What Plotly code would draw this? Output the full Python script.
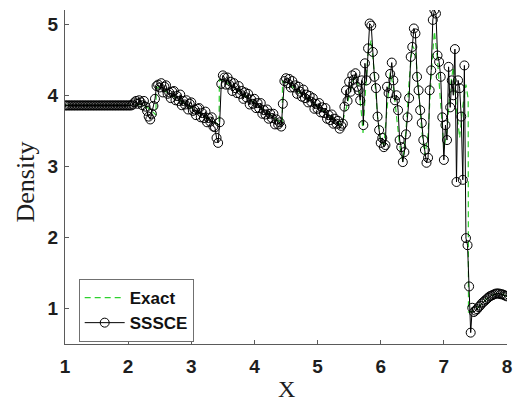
import plotly.graph_objects as go

# ---- SSSCE solution (cell values) ----
x_sssce = [
    # 1.000 - 2.050
    1.000, 1.025, 1.050, 1.075, 1.100, 1.125, 1.150, 1.175, 1.200, 1.225,
    1.250, 1.275, 1.300, 1.325, 1.350, 1.375, 1.400, 1.425, 1.450, 1.475,
    1.500, 1.525, 1.550, 1.575, 1.600, 1.625, 1.650, 1.675, 1.700, 1.725,
    1.750, 1.775, 1.800, 1.825, 1.850, 1.875, 1.900, 1.925, 1.950, 1.975,
    2.000, 2.025, 2.050,
    # 2.075 - 2.475
    2.075, 2.100, 2.125, 2.150, 2.175, 2.200, 2.225, 2.250, 2.275, 2.300,
    2.325, 2.350, 2.375, 2.400, 2.425, 2.450, 2.475,
    # 2.500 - 3.500
    2.500, 2.525, 2.550, 2.575, 2.600, 2.625, 2.650, 2.675, 2.700, 2.725,
    2.750, 2.775, 2.800, 2.825, 2.850, 2.875, 2.900, 2.925, 2.950, 2.975,
    3.000, 3.025, 3.050, 3.075, 3.100, 3.125, 3.150, 3.175, 3.200, 3.225,
    3.250, 3.275, 3.300, 3.325, 3.350, 3.375, 3.400, 3.425, 3.450, 3.475,
    3.500,
    # 3.525 - 4.500
    3.525, 3.550, 3.575, 3.600, 3.625, 3.650, 3.675, 3.700, 3.725, 3.750,
    3.775, 3.800, 3.825, 3.850, 3.875, 3.900, 3.925, 3.950, 3.975, 4.000,
    4.025, 4.050, 4.075, 4.100, 4.125, 4.150, 4.175, 4.200, 4.225, 4.250,
    4.275, 4.300, 4.325, 4.350, 4.375, 4.400, 4.425, 4.450, 4.475, 4.500,
    # 4.525 - 5.375
    4.525, 4.550, 4.575, 4.600, 4.625, 4.650, 4.675, 4.700, 4.725, 4.750,
    4.775, 4.800, 4.825, 4.850, 4.875, 4.900, 4.925, 4.950, 4.975, 5.000,
    5.025, 5.050, 5.075, 5.100, 5.125, 5.150, 5.175, 5.200, 5.225, 5.250,
    5.275, 5.300, 5.325, 5.350, 5.375,
    # 5.400 - 7.475
    5.400, 5.425, 5.450, 5.475, 5.500, 5.525, 5.550, 5.575, 5.600, 5.625,
    5.650, 5.675, 5.700, 5.725, 5.750, 5.775, 5.800, 5.825, 5.850, 5.875,
    5.900, 5.925, 5.950, 5.975, 6.000, 6.025, 6.050, 6.075, 6.100, 6.125,
    6.150, 6.175, 6.200, 6.225, 6.250, 6.275, 6.300, 6.325, 6.350, 6.375,
    6.400, 6.425, 6.450, 6.475, 6.500, 6.525, 6.550, 6.575, 6.600, 6.625,
    6.650, 6.675, 6.700, 6.725, 6.750, 6.775, 6.800, 6.825, 6.850, 6.875,
    6.900, 6.925, 6.950, 6.975, 7.000, 7.025, 7.050, 7.075, 7.100, 7.125,
    7.150, 7.175, 7.200, 7.225, 7.250, 7.275, 7.300, 7.325, 7.350, 7.375,
    7.400, 7.425, 7.450, 7.475,
    # 7.500 - 8.000
    7.500, 7.525, 7.550, 7.575, 7.600, 7.625, 7.650, 7.675, 7.700, 7.725,
    7.750, 7.775, 7.800, 7.825, 7.850, 7.875, 7.900, 7.925, 7.950, 7.975,
    8.000,
]

rho_sssce = [
    # 1.000 - 2.050
    3.857, 3.857, 3.857, 3.857, 3.857, 3.857, 3.857, 3.857, 3.857, 3.857,
    3.857, 3.857, 3.857, 3.857, 3.857, 3.857, 3.857, 3.857, 3.857, 3.857,
    3.857, 3.857, 3.857, 3.857, 3.857, 3.857, 3.857, 3.857, 3.857, 3.857,
    3.857, 3.857, 3.857, 3.857, 3.857, 3.857, 3.857, 3.857, 3.857, 3.857,
    3.857, 3.857, 3.857,
    # 2.075 - 2.475
    3.87, 3.90, 3.92, 3.88, 3.93, 3.90, 3.86, 3.92, 3.84, 3.78,
    3.70, 3.66, 3.74, 3.85, 3.95, 4.13, 4.15,
    # 2.500 - 3.500
    4.11, 4.17, 4.04, 4.12, 4.14, 4.02, 4.04, 3.96, 4.05, 4.06,
    3.93, 3.99, 3.92, 4.01, 3.86, 3.92, 3.87, 3.93, 3.80, 3.88,
    3.90, 3.78, 3.80, 3.72, 3.81, 3.82, 3.69, 3.75, 3.68, 3.77,
    3.62, 3.68, 3.63, 3.69, 3.56, 3.55, 3.40, 3.33, 3.62, 4.16,
    4.28,
    # 3.525 - 4.500
    4.25, 4.15, 4.25, 4.15, 4.19, 4.06, 4.17, 4.10, 4.03, 4.13,
    4.02, 4.06, 3.95, 4.04, 3.97, 4.02, 3.87, 3.94, 3.88, 3.95,
    3.82, 3.89, 3.82, 3.89, 3.74, 3.79, 3.73, 3.80, 3.67, 3.74,
    3.68, 3.74, 3.59, 3.66, 3.59, 3.62, 3.56, 3.88, 4.20, 4.24,
    # 4.525 - 5.375
    4.17, 4.23, 4.11, 4.20, 4.11, 4.14, 4.02, 4.12, 4.05, 3.98,
    4.08, 3.96, 4.01, 3.90, 3.99, 3.91, 3.96, 3.81, 3.88, 3.81,
    3.89, 3.76, 3.83, 3.75, 3.82, 3.67, 3.72, 3.65, 3.73, 3.60,
    3.67, 3.60, 3.64, 3.53, 3.57,
    # 5.400 - 7.475
    3.60, 3.84, 4.07, 3.92, 4.19, 4.05, 4.28, 4.22, 4.31, 4.12,
    4.07, 3.93, 4.21, 3.58, 4.45, 4.21, 4.66, 5.01, 4.98, 4.61,
    4.26, 4.10, 3.70, 3.51, 3.33, 3.40, 3.27, 3.30, 4.12, 4.03,
    4.30, 4.46, 4.21, 3.93, 4.00, 3.79, 3.37, 3.27, 3.06, 3.20,
    3.45, 3.69, 3.96, 4.54, 4.68, 4.94, 4.87, 4.26, 4.07, 3.79,
    3.61, 3.37, 3.23, 3.05, 3.12, 4.07, 4.35, 5.06, 5.20, 5.15,
    4.56, 4.47, 4.26, 3.69, 3.09, 3.58, 3.37, 4.40, 3.83, 4.21,
    4.00, 4.65, 2.78, 4.21, 4.10, 3.70, 2.81, 4.42, 1.99, 1.89,
    1.31, 0.66, 1.01, 0.95,
    # 7.500 - 8.000
    0.97, 0.99, 1.02, 1.04, 1.07, 1.09, 1.11, 1.13, 1.15, 1.17,
    1.18, 1.19, 1.20, 1.21, 1.21, 1.21, 1.20, 1.20, 1.19, 1.18,
    1.17,
]

# ---- Reference (exact) solution ----
x_exact = [
    1.000, 2.050, 2.200, 2.300, 2.400, 2.440, 2.445, 2.600, 2.800, 3.000,
    3.200, 3.440, 3.445, 3.600, 3.800, 4.000, 4.200, 4.440, 4.445, 4.600,
    4.800, 5.000, 5.200, 5.380, 5.450, 5.500, 5.550, 5.600, 5.650, 5.700,
    5.720, 5.750, 5.800, 5.850, 5.900, 5.950, 6.000, 6.050, 6.100, 6.150,
    6.200, 6.250, 6.300, 6.350, 6.400, 6.450, 6.500, 6.550, 6.600, 6.650,
    6.700, 6.750, 6.800, 6.850, 6.900, 6.950, 7.000, 7.050, 7.100, 7.150,
    7.200, 7.250, 7.300, 7.350, 7.385, 7.390, 7.450, 7.500, 7.600, 7.700,
    7.800, 7.900, 8.000,
]
rho_exact = [
    3.857, 3.857, 3.870, 3.830, 3.760, 3.720, 4.120, 4.050, 3.940, 3.820,
    3.710, 3.580, 4.220, 4.160, 4.030, 3.900, 3.760, 3.600, 4.200, 4.120,
    3.980, 3.840, 3.700, 3.580, 3.800, 4.000, 4.180, 4.260, 4.120, 3.700,
    3.470, 3.950, 4.600, 4.780, 4.300, 3.700, 3.360, 3.300, 3.850, 4.320,
    4.120, 3.700, 3.300, 3.070, 3.500, 4.200, 4.700, 4.620, 4.100, 3.500,
    3.150, 3.450, 4.300, 4.900, 4.500, 3.900, 3.250, 3.500, 4.100, 4.400,
    3.800, 3.400, 3.850, 4.150, 3.950, 0.950, 0.960, 0.980, 1.060, 1.150,
    1.200, 1.210, 1.170,
]

x_ticks = [1, 2, 3, 4, 5, 6, 7, 8]
y_ticks = [1, 2, 3, 4, 5]

AXIS_GRAY = "#5a5a5a"
TICK_FONT = dict(family="Liberation Sans, Arial, sans-serif", size=19,
                 color="#1e1e1e", weight="bold")
SERIF = "Liberation Serif, Times New Roman, serif"

fig = go.Figure()

fig.add_trace(go.Scatter(
    x=x_exact, y=rho_exact, name="Exact", mode="lines",
    line=dict(color="#2ed12e", width=1.2, dash="6px,4px"),
))

fig.add_trace(go.Scatter(
    x=x_sssce, y=rho_sssce, name="SSSCE", mode="lines+markers",
    line=dict(color="black", width=1),
    marker=dict(symbol="circle-open", size=9, color="black",
                line=dict(color="black", width=1)),
))

axis_common = dict(
    showgrid=False, zeroline=False, showline=True, linecolor=AXIS_GRAY,
    linewidth=1, ticks="inside", ticklen=4, tickcolor=AXIS_GRAY, tickwidth=1,
    tickfont=TICK_FONT, mirror=False,
)

fig.update_xaxes(range=[1, 8], tickvals=x_ticks, ticktext=[str(v) for v in x_ticks],
                 ticklabelstandoff=5, **axis_common)
fig.update_yaxes(range=[0.5, 5.2], tickvals=y_ticks, ticktext=[str(v) for v in y_ticks],
                 ticklabelstandoff=2, **axis_common)

fig.add_annotation(text="Density", xref="paper", yref="paper",
                   x=-0.0895, y=0.485, textangle=-90, showarrow=False,
                   xanchor="center", yanchor="middle",
                   font=dict(family=SERIF, size=26, color="#1e1e1e"))
fig.add_annotation(text="X", xref="paper", yref="paper",
                   x=0.5, y=-0.179, showarrow=False,
                   xanchor="center", yanchor="bottom",
                   font=dict(family=SERIF, size=24, color="#1e1e1e"))

fig.update_layout(
    width=518, height=404,
    margin=dict(l=65, r=6, t=10, b=60),
    paper_bgcolor="white", plot_bgcolor="white",
    showlegend=True,
    legend=dict(
        x=0.031, y=0.006, xanchor="left", yanchor="bottom",
        bgcolor="white", bordercolor="#707070", borderwidth=1,
        font=dict(family="Liberation Sans, Arial, sans-serif", size=17,
                  color="#111111", weight="bold"),
        itemwidth=40, tracegroupgap=0,
    ),
)

fig.write_html("out.html")
